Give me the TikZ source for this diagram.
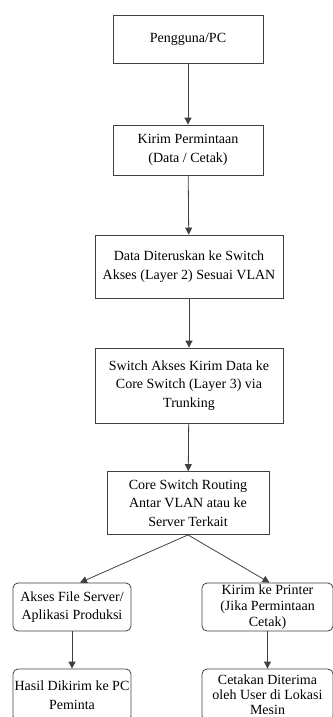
\documentclass[tikz,border=0pt]{standalone}
\usepackage{fontspec}
\setmainfont{Liberation Serif}
\usepackage{tikz}
\usetikzlibrary{arrows, arrows.meta, positioning}

\begin{document}
\begin{tikzpicture}[x=1pt, y=1pt, ->, >=stealth, rectangle, every node/.style={align=center, inner sep=1pt, font=\fontsize{14}{18.5}\selectfont}, node distance=110pt, post/.style={-{Triangle[length=7pt,width=7pt]},shorten >=0pt,thick, draw=black!75}, step box/.style={draw=black!75, thick}, end box/.style={draw=black!75, thick, rounded corners=5pt}]

				\useasboundingbox (0,0) rectangle (332,-717);

				\node [step box, minimum width=150pt, minimum height=48pt] (PC) at (188,-39) {Pengguna/PC};
				\node [step box] (KP)
					[below of = PC, node distance=111pt, minimum width=150pt, minimum height=50pt]
					{Kirim Permintaan\\(Data / Cetak)};

				\node [step box] (DD)
					[below of = KP, node distance=116.5pt, xshift=1pt, minimum width=188pt, minimum height=63pt]
					{Data Diteruskan ke Switch\\Akses (Layer 2) Sesuai VLAN};

				\node [step box] (SA)
					[below of = DD, node distance=119pt, minimum width=188pt, minimum height=75pt]
					{Switch Akses Kirim Data ke\\Core Switch (Layer 3) via\\Trunking};

				\node [step box] (CS)
					[below of = SA, node distance=117.5pt, xshift=-1pt, minimum width=162pt, minimum height=63pt]
					{Core Switch Routing\\Antar VLAN atau ke\\Server Terkait};

				\node [end box] (FS)
					[below of = CS, node distance=104pt, xshift=-116pt, minimum width=118pt, minimum height=48pt]
					{Akses File Server/\\Aplikasi Produksi};

				\node [end box, font=\fontsize{14}{16}\selectfont] (KPr)
					[below of = CS, node distance=104pt, xshift=79.5pt, minimum width=131pt, minimum height=48pt]
					{Kirim ke Printer\\(Jika Permintaan\\Cetak)};

				\node [end box] (HD)
					[below of = FS, node distance=88pt, minimum width=118pt, minimum height=52pt]
					{Hasil Dikirim ke PC\\Peminta};

				\node [end box, font=\fontsize{14}{15}\selectfont] (CD)
					[below of = KPr, node distance=88pt, minimum width=131pt, minimum height=52pt]
					{Cetakan Diterima\\oleh User di Lokasi\\Mesin};

				% alur utama
				\draw[post] (PC) -- (KP);
				\draw[post] (KP) -- (DD);
				\draw[post] (DD) -- (SA);
				\draw[post] (SA) -- (CS);

				% percabangan
				\draw[post] (CS.south) -- ([xshift=8pt]FS.north);
				\draw[post] (CS.south) -- ([xshift=2pt]KPr.north);
				\draw[post] (FS) -- (HD);
				\draw[post] (KPr) -- (CD);

			\end{tikzpicture}
\end{document}
